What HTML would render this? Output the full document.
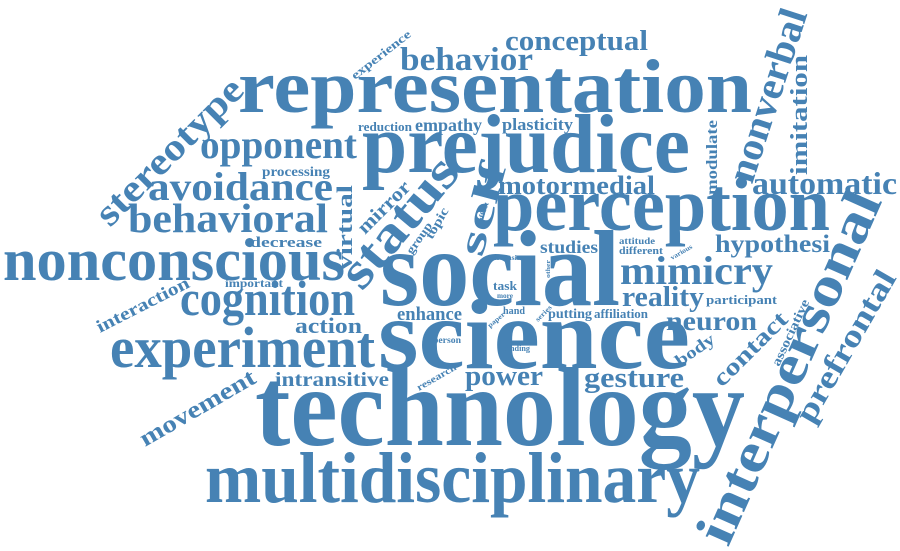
<!DOCTYPE html>
<html><head><meta charset="utf-8"><style>
html,body{margin:0;padding:0;background:#fff}
svg{display:block}
text{font-family:"Liberation Serif",serif;font-weight:bold;fill:#4682b4}
</style></head><body>
<svg width="900" height="551" viewBox="0 0 900 551">
<g id="words"></g>
</svg>
<script>
// word, x, y(baseline), font size, width, rotation
const words = [
["representation",238,112,76,514,0],
["prejudice",362,172,84,328,0],
["social",380,305,108,240,0],
["science",378,368,100,312,0],
["technology",255,445,112,490,0],
["multidisciplinary",205,502,72,495,0],
["perception",493,230,76,337,0],
["nonconscious",3,280,60,342,0],
["experiment",110,367,58,265,0],
["cognition",180,315,50,175,0],
["behavioral",128,232,41,200,0],
["avoidance",148,200,40,185,0],
["opponent",200,158,40,157,0],
["behavior",400,70,33,133,0],
["conceptual",505,50,28,143,0],
["reduction",358,131,13,54,0],
["empathy",415,131,18,67,0],
["plasticity",502,130,17,71,0],
["processing",262,176,14,68,0],
["decrease",250,247,15,72,0],
["important",225,287,12,58,0],
["motormedial",498,194,26,157,0],
["automatic",752,194,32,145,0],
["hypothesi",715,252,25,115,0],
["mimicry",620,284,40,153,0],
["reality",622,306,28,82,0],
["participant",706,304,13,71,0],
["neuron",666,330,27,91,0],
["putting",548,318,14,44,0],
["affiliation",594,318,13,54,0],
["hand",503,314,11,22,0],
["enhance",397,320,19,65,0],
["task",493,290,13,24,0],
["more",497,298,7,16,0],
["studies",540,253,18,58,0],
["attitude",619,244,9,36,0],
["different",619,254,10,44,0],
["skin",485,260,7,14,0],
["basis",503,260,7,17,0],
["action",295,333,22,67,0],
["intransitive",275,386,20,114,0],
["power",465,385,28,78,0],
["gesture",584,387,28,100,0],
["person",433,343,9,28,0],
["finding",505,351,8,25,0],
["stereotype",110,228,38,192,-45],
["status",362,292,52,155,-50],
["virtual",352,270,22,85,-90],
["mirror",365,235,20,66,-45],
["self",482,258,38,95,-75],
["group",412,255,12,36,-55],
["topic",432,240,13,34,-60],
["effect",482,222,7,20,-70],
["other",550,278,6,18,-90],
["paper",490,328,7,20,-40],
["series",538,322,7,20,-45],
["various",672,260,7,24,-30],
["nonverbal",752,185,40,180,-72],
["imitation",807,175,24,120,-90],
["modulate",717,195,16,75,-90],
["interpersonal",728,548,55,380,-66],
["prefrontal",812,425,32,170,-60],
["associative",779,367,13,72,-65],
["contact",722,388,24,95,-45],
["body",680,367,17,44,-35],
["interaction",100,333,18,102,-27],
["movement",145,447,24,130,-30],
["research",419,391,10,44,-30],
["experience",355,80,12,72,-38]
];
const g = document.getElementById('words');
const NS = 'http://www.w3.org/2000/svg';
for (const w of words) {
  const t = document.createElementNS(NS, 'text');
  t.textContent = w[0];
  t.setAttribute('x', 0);
  t.setAttribute('y', 0);
  t.setAttribute('font-size', w[3]);
  t.setAttribute('textLength', w[4]);
  t.setAttribute('lengthAdjust', 'spacingAndGlyphs');
  t.setAttribute('transform', 'translate(' + w[1] + ',' + w[2] + ') rotate(' + w[5] + ')');
  
  
  g.appendChild(t);
}
</script>
</body></html>
